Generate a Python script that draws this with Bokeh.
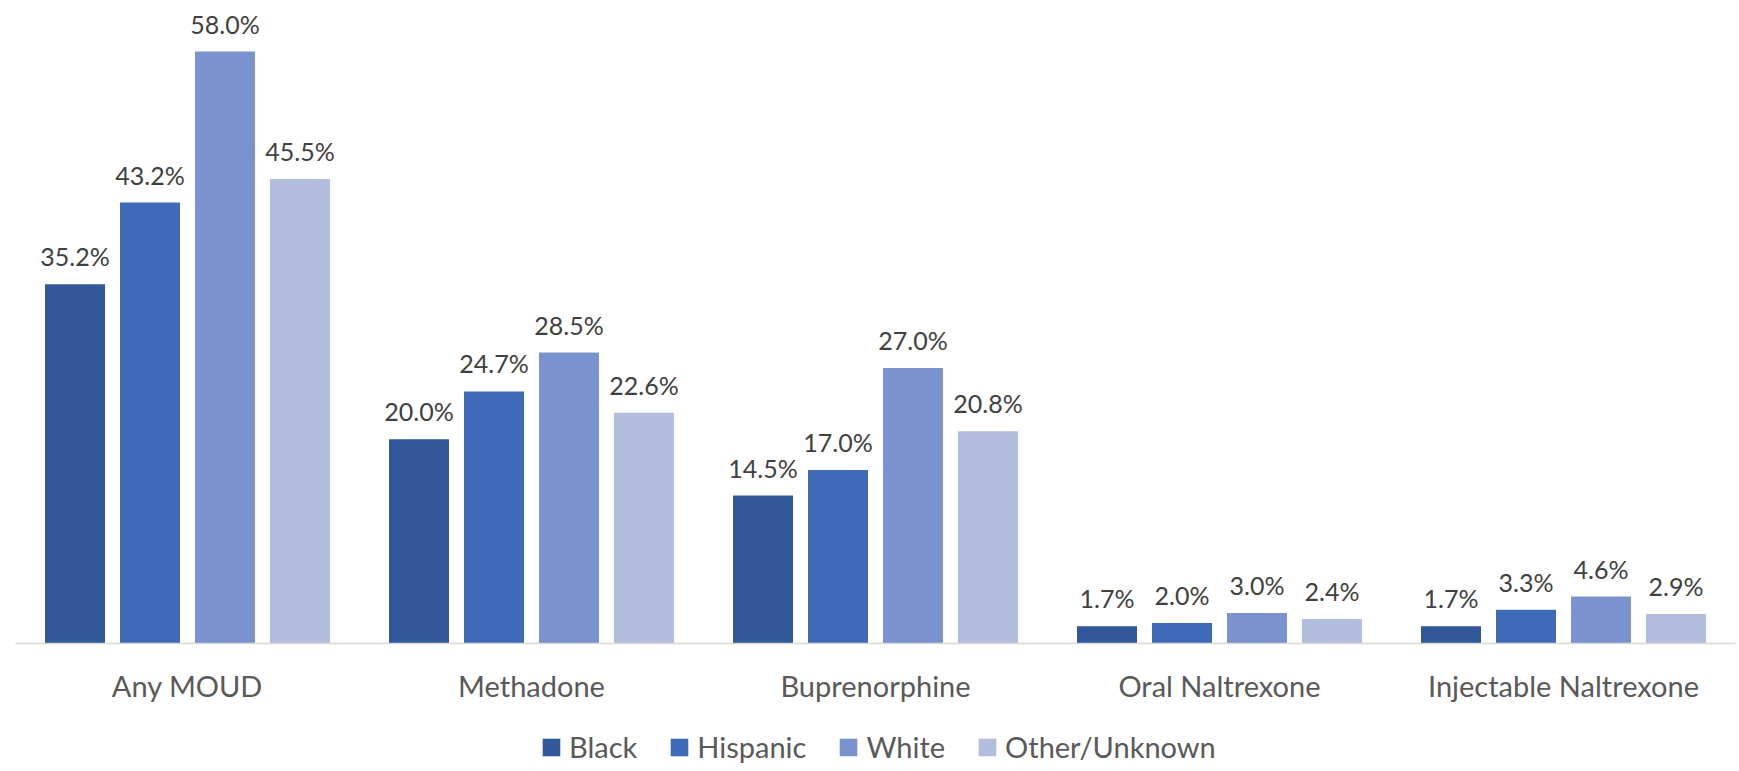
from bokeh.plotting import figure
from bokeh.layouts import column
from bokeh.models import ColumnDataSource, FactorRange, Range1d, Legend, LegendItem
from bokeh.transform import dodge
from bokeh.core.properties import value
from bokeh.embed import file_html
from bokeh.resources import INLINE

categories = ["Any MOUD", "Methadone", "Buprenorphine", "Oral Naltrexone", "Injectable Naltrexone"]
groups = ["Black", "Hispanic", "White", "Other/Unknown"]
black = [35.2, 20.0, 14.5, 1.7, 1.7]
hispanic = [43.2, 24.7, 17.0, 2.0, 3.3]
white = [58.0, 28.5, 27.0, 3.0, 4.6]
other = [45.5, 22.6, 20.8, 2.4, 2.9]
colors = ["#31589A", "#3F6AB7", "#7A93CF", "#B3BEDF"]

series = [black, hispanic, white, other]
FONT = "Lato"

data = {"cat": categories}
for i, s in enumerate(series):
    data[f"v{i}"] = s
    data[f"l{i}"] = [f"{v:.1f}%" for v in s]
source = ColumnDataSource(data)

p = figure(x_range=FactorRange(factors=categories, range_padding=0),
           y_range=Range1d(0, 63.0),
           width=1739, height=727, output_backend="svg", toolbar_location=None,
           min_border_left=15, min_border_right=4, min_border_top=0, min_border_bottom=84)
p.outline_line_color = None
p.xgrid.visible = False
p.ygrid.visible = False
p.yaxis.visible = False

step = 0.218
bw = 0.1744
for i, name in enumerate(groups):
    off = (i - 1.5) * step
    p.vbar(x=dodge("cat", off, range=p.x_range), top=f"v{i}", width=bw,
           source=source, fill_color=colors[i], line_color=None)
    p.text(x=dodge("cat", off, range=p.x_range), y=f"v{i}", text=f"l{i}", source=source,
           text_align="center", text_baseline="alphabetic", y_offset=-28,
           text_font=value(FONT), text_font_size="25px", text_color="#404040")

ax = p.xaxis[0]
ax.axis_line_color = "#D9D9D9"
ax.axis_line_width = 1.5
ax.major_tick_line_color = None
ax.minor_tick_line_color = None
ax.major_label_standoff = 18
ax.major_label_text_font = FONT
ax.major_label_text_font_size = "29px"
ax.major_label_text_color = "#595959"

# legend strip below the chart (swatches use the same colours as the bars)
lg = figure(width=1739, height=44, output_backend="svg", toolbar_location=None,
            x_range=Range1d(0, 1), y_range=Range1d(0, 1),
            min_border_left=15, min_border_right=4, min_border_top=0, min_border_bottom=0)
lg.outline_line_color = None
lg.xaxis.visible = False
lg.yaxis.visible = False
lg.xgrid.visible = False
lg.ygrid.visible = False
swatch = ColumnDataSource({"x": [0.5], "top": [0.0]})
items = []
for i, name in enumerate(groups):
    r = lg.vbar(x="x", top="top", width=0.0, source=swatch, fill_color=colors[i], line_color=None)
    items.append(LegendItem(label=name, renderers=[r]))

legend = Legend(items=items, orientation="horizontal", location=(525, 7),
                glyph_width=22, glyph_height=22, label_standoff=7, spacing=31,
                padding=0, margin=0, border_line_color=None, background_fill_alpha=0,
                label_text_font=FONT, label_text_font_size="29px", label_text_color="#595959")
lg.add_layout(legend, "center")

layout = column(p, lg, spacing=0)
open("out.html", "w").write(file_html(layout, INLINE))
